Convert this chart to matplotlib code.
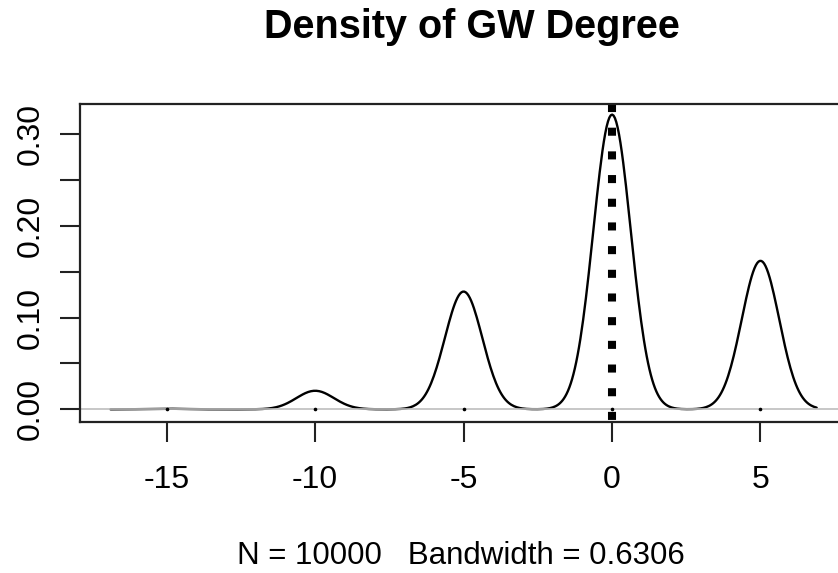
import numpy as np
import matplotlib
matplotlib.use("Agg")
import matplotlib.pyplot as plt

# GW degree values and how many of the 10000 draws fell on each
degree_values = [-15, -10, -5, 0, 5]
degree_counts = [10, 320, 2030, 5080, 2560]
bandwidth = 0.6306
n_total = 10000

title = "Density of GW Degree"
x_ticks = [-15, -10, -5, 0, 5]
y_ticks = [0.00, 0.05, 0.10, 0.15, 0.20, 0.25, 0.30]
y_labels = ["0.00", "", "0.10", "", "0.20", "", "0.30"]

plt.rcParams["font.family"] = ["Liberation Sans", "DejaVu Sans"]

# gaussian kernel density like R's density(), cut = 3 bandwidths
vals = np.array(degree_values, dtype=float)
w = np.array(degree_counts, dtype=float) / n_total
grid = np.linspace(vals.min() - 3 * bandwidth, vals.max() + 3 * bandwidth, 512)
dens = np.zeros_like(grid)
for v, p in zip(vals, w):
    dens += p * np.exp(-0.5 * ((grid - v) / bandwidth) ** 2) / (bandwidth * np.sqrt(2 * np.pi))

fig = plt.figure(figsize=(8.38, 5.73), dpi=100)
ax = fig.add_axes([80 / 838, (573 - 421.7) / 573, 766 / 838, (421.7 - 104) / 573])

top = dens.max()
y_lo, y_hi = -0.042 * top, 1.036 * top

ax.plot(grid, dens, color="black", lw=1.7, solid_capstyle="round")
ax.axhline(0, color="#bebebe", lw=1.2)
ax.plot(vals, np.zeros_like(vals), ls="none", marker="o", ms=1.6, color="black")
# vertical dotted line at 0, drawn from the top down so a dot sits at the top edge
ax.plot([0, 0], [y_hi, y_lo], color="black", lw=5.8,
        linestyle=(0, (1.0, 1.94)), dash_capstyle="butt")

ax.set_xlim(-17.92, 7.88)
ax.set_ylim(y_lo, y_hi)

ax.set_xticks(x_ticks)
ax.set_xticklabels([str(t) for t in x_ticks], fontsize=23)
ax.set_yticks(y_ticks)
ax.set_yticklabels(y_labels, fontsize=23, rotation=90, va="center")
ax.tick_params(axis="both", length=14.5, width=1.5, color="#222222")
ax.tick_params(axis="x", pad=17)
ax.tick_params(axis="y", pad=10)
for s in ax.spines.values():
    s.set_linewidth(1.6)
    s.set_color("#222222")

fig.text(471.5 / 838, 1 - 27.5 / 573, title, ha="center", va="center",
         fontsize=28.5, fontweight="bold")
fig.text(461 / 838, 1 - 556 / 573, "N = %d   Bandwidth = %.4f" % (n_total, bandwidth),
         ha="center", va="center", fontsize=22.5)

fig.savefig("out.png", dpi=100)
